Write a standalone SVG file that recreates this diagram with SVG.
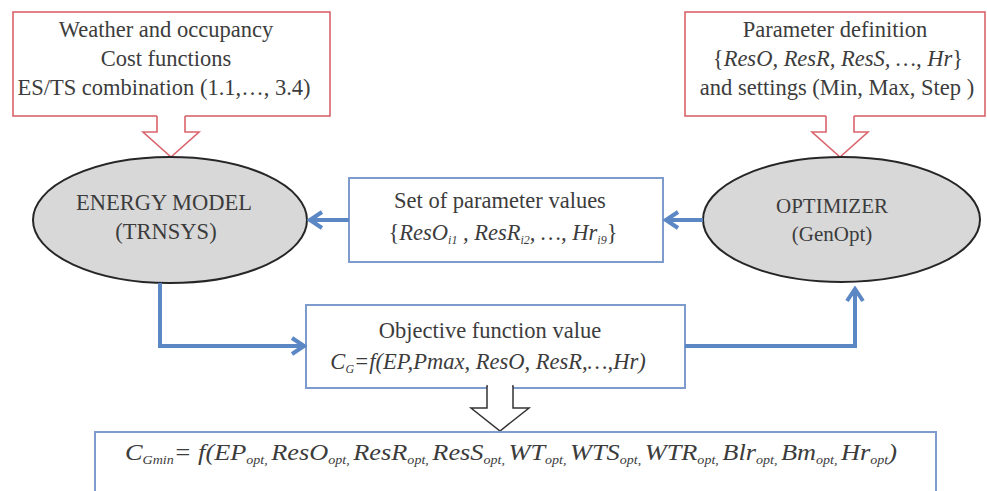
<svg xmlns="http://www.w3.org/2000/svg" width="987" height="491" viewBox="0 0 987 491">
<style>
.t{font-family:"Liberation Serif","Times New Roman",serif;font-size:22.5px;fill:#3c3c3c}
.c{text-anchor:middle}
.i{font-style:italic}
.u{font-style:normal}
.s{font-size:12px}
.red{fill:#fff;stroke:#d9646c;stroke-width:1.6}
.blue{fill:#fff;stroke:#7d9bcc;stroke-width:2}
.ell{fill:#d8d8d8;stroke:#262626;stroke-width:2}
.conn{fill:none;stroke:#5b87c4;stroke-width:4}
</style>
<defs>
<marker id="ah" markerUnits="userSpaceOnUse" viewBox="0 0 20 20" markerWidth="20" markerHeight="20" refX="17" refY="10" orient="auto">
<path d="M5,2 L17,10 L5,18" fill="none" stroke="#5b87c4" stroke-width="4" stroke-linejoin="miter"/>
</marker>
</defs>
<rect width="987" height="491" fill="#fff"/>

<g id="weather">
<rect class="red" x="13" y="12" width="317" height="104"/>
<text class="t c" x="166" y="37">Weather and occupancy</text>
<text class="t c" x="166" y="66">Cost functions</text>
<text class="t c" x="164" y="95">ES/TS combination (1.1,…, 3.4)</text>
<polygon points="157,114 157,132 143,132 171,157 199,132 185,132 185,114" fill="#fff"/>
<polyline points="157,116 157,132 143,132 171,157 199,132 185,132 185,116" fill="none" stroke="#d9646c" stroke-width="1.6"/>
</g>

<g id="paramdef">
<rect class="red" x="685" y="12" width="300" height="104"/>
<text class="t c" x="835" y="37">Parameter definition</text>
<text class="t c" x="838" y="66"><tspan class="u">{</tspan><tspan class="i">ResO, ResR, ResS, …, Hr</tspan><tspan class="u">}</tspan></text>
<text class="t c" x="837" y="95">and settings (Min, Max, Step )</text>
<polygon points="826,114 826,132 812,132 840,157 868,132 854,132 854,114" fill="#fff"/>
<polyline points="826,116 826,132 812,132 840,157 868,132 854,132 854,116" fill="none" stroke="#d9646c" stroke-width="1.6"/>
</g>

<g id="energy">
<ellipse class="ell" cx="170" cy="220" rx="137" ry="63"/>
<text class="t c" x="164" y="210">ENERGY MODEL</text>
<text class="t c" x="166" y="239">(TRNSYS)</text>
</g>

<g id="optimizer">
<ellipse class="ell" cx="841.5" cy="219.5" rx="138.5" ry="62.5"/>
<text class="t c" x="832" y="213" style="font-size:21px">OPTIMIZER</text>
<text class="t c" x="832" y="241" style="font-size:21px">(GenOpt)</text>
</g>

<g id="paramset">
<rect class="blue" x="349" y="178" width="314" height="84"/>
<text class="t c" x="500" y="208">Set of parameter values</text>
<text class="t c" x="503" y="240"><tspan class="u">{</tspan><tspan class="i">ResO</tspan><tspan class="i s" dy="4">i1</tspan><tspan class="i" dy="-4"> , ResR</tspan><tspan class="i s" dy="4">i2</tspan><tspan class="i" dy="-4">, …, Hr</tspan><tspan class="i s" dy="4">i9</tspan><tspan class="u" dy="-4">}</tspan></text>
</g>

<g id="objective">
<rect class="blue" x="306" y="305" width="379" height="83"/>
<text class="t c" x="490" y="338">Objective function value</text>
<text class="t c i" x="488" y="369">C<tspan class="s" dy="4">G</tspan><tspan dy="-4">=f(EP,Pmax, ResO, ResR,…,Hr)</tspan></text>
<polygon points="487,386 487,408 471,408 500,431 529,408 513,408 513,386" fill="#fff" stroke="#333" stroke-width="1.5"/>
<rect x="488" y="385" width="24" height="4" fill="#fff"/>
</g>

<g id="result">
<rect class="blue" x="95" y="432" width="841" height="80"/>
<text class="t i" x="125" y="460" textLength="772" lengthAdjust="spacingAndGlyphs">C<tspan class="s" dy="4">Gmin</tspan><tspan dy="-4">= f(EP</tspan><tspan class="s" dy="4">opt, </tspan><tspan dy="-4">ResO</tspan><tspan class="s" dy="4">opt, </tspan><tspan dy="-4">ResR</tspan><tspan class="s" dy="4">opt, </tspan><tspan dy="-4">ResS</tspan><tspan class="s" dy="4">opt, </tspan><tspan dy="-4">WT</tspan><tspan class="s" dy="4">opt, </tspan><tspan dy="-4">WTS</tspan><tspan class="s" dy="4">opt, </tspan><tspan dy="-4">WTR</tspan><tspan class="s" dy="4">opt, </tspan><tspan dy="-4">Blr</tspan><tspan class="s" dy="4">opt, </tspan><tspan dy="-4">Bm</tspan><tspan class="s" dy="4">opt, </tspan><tspan dy="-4">Hr</tspan><tspan class="s" dy="4">opt</tspan><tspan dy="-4">)</tspan></text>
</g>

<g id="connectors">
<line class="conn" x1="349" y1="220" x2="310" y2="220" marker-end="url(#ah)"/>
<line class="conn" x1="703" y1="220" x2="666" y2="220" marker-end="url(#ah)"/>
<path class="conn" d="M160,283 V346 H304" marker-end="url(#ah)"/>
<path class="conn" d="M685,346 H855 V289" marker-end="url(#ah)"/>
</g>
</svg>
